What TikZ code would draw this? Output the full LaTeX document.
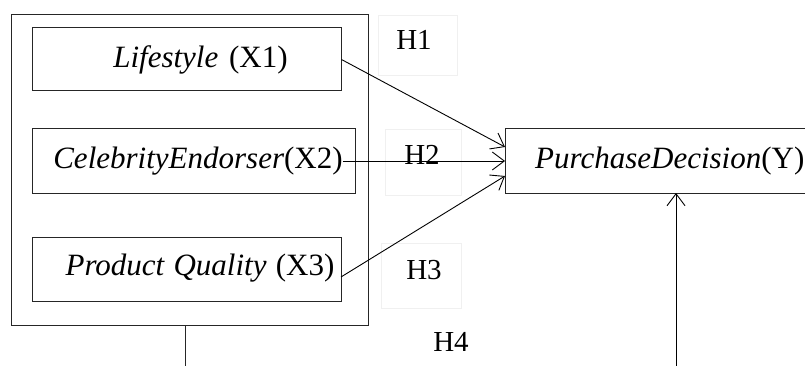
\documentclass[tikz,border=0pt]{standalone}
\usepackage{fontspec}
\setmainfont{Liberation Serif}
\usetikzlibrary{arrows.meta}
\begin{document}
\begin{tikzpicture}[x=1pt,y=-1pt,
  box/.style={draw=black!85,line width=1pt,rectangle,inner sep=0pt},
  hbox/.style={draw=black!6,line width=0.6pt,rectangle,inner sep=0pt},
  txt/.style={font=\fontsize{31}{34}\selectfont,inner sep=0pt},
  htxt/.style={font=\fontsize{29}{32}\selectfont,inner sep=0pt},
  arr/.style={draw=black,line width=0.9pt,-{Straight Barb[length=12pt,width=18pt,line width=0.9pt]}}]
\useasboundingbox (0,0) rectangle (805,366);
\begin{scope}
\clip (0,0) rectangle (805,366);
% outer frame
\node[box,minimum width=357pt,minimum height=310pt] (outer) at (189.5,170) {};
% hypothesis boxes
\node[hbox,minimum width=79pt,minimum height=60pt] (h1box) at (417.5,45) {};
\node[hbox,minimum width=76pt,minimum height=66pt] (h2box) at (423,162) {};
\node[hbox,minimum width=80pt,minimum height=65pt] (h3box) at (421,275.5) {};
% variable boxes
\node[box,minimum width=309pt,minimum height=63pt] (x1) at (186.5,59.5) {};
\node[box,minimum width=323pt,minimum height=64pt] (x2) at (193.5,161) {};
\node[box,minimum width=309pt,minimum height=64pt] (x3) at (186.5,269) {};
\node[box,minimum width=320pt,minimum height=64pt,anchor=west] (y) at (505,161) {};
% texts
\node[txt] (t1) at (200.5,60) {\textit{Lifestyle}\hspace{0.35em}(X1)};
\node[txt] (t2) at (198,161) {\textit{CelebrityEndorser}(X2)};
\node[txt] (t3) at (200,268) {\textit{Product\hspace{0.3em}Quality}\hspace{0.3em}(X3)};
\node[txt,anchor=west] (ty) at (535,161) {\textit{PurchaseDecision}(Y)};
% hypothesis labels
\node[htxt] (H1) at (414,40) {H1};
\node[htxt] (H2) at (422,155) {H2};
\node[htxt] (H3) at (424,270) {H3};
\node[htxt] (H4) at (451,342) {H4};
% connectors
\coordinate (y1) at (505,147);
\coordinate (y3) at (505,176);
\coordinate (ybot) at (676,193);
\coordinate (obot) at (185,366);
\coordinate (ybase) at (676,366);
\draw[arr] (x1.east) -- (y1);
\draw[arr] (t2.east) -- (y.west);
\draw[arr] (341,277) -- (y3);
\draw[arr] (ybase) -- (ybot);
\draw[line width=1pt,black!85] (outer.south -| obot) -- (obot);
\end{scope}
\end{tikzpicture}
\end{document}
